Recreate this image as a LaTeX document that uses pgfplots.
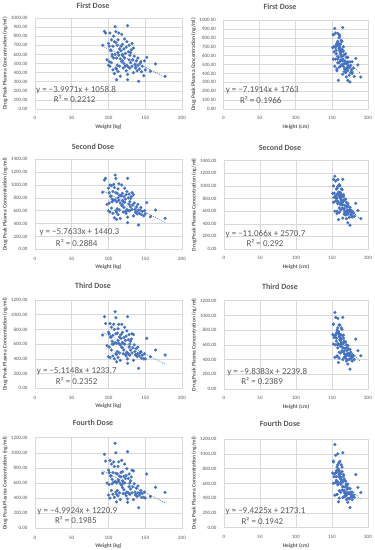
\documentclass[border=0pt]{standalone}
\usepackage{fontspec}
\setmainfont{Carlito}
\usepackage{pgfplots}
\usepackage{pgfplotstable}
\pgfplotsset{compat=1.18}
\definecolor{dotblue}{HTML}{4472C4}
\definecolor{txtgray}{HTML}{595959}
\definecolor{gridgray}{HTML}{D9D9D9}

\pgfplotstableread{
w h c1 c2 c3 c4
92 153 700 886 724 728
94.5 155 853 1078 973 979
96 152 835 1104 880 890
109 154 905 1155 1041 1125
126 165 916 1104 973 1014
141 175 304 378 271 273
177 190 359 482 452 476
164 186 495 611 520 543
152 183 568 725 679 719
111 159 322 466 360 350
126 172 322 415 339 345
148 181 366 520 400 410
157 178 414 505 430 420
102 152 835 1000 880 900
114 160 835 1020 870 880
100 156 720 950 760 770
104 158 760 990 830 850
106 161 690 900 720 740
108 157 740 960 800 820
110 162 730 880 740 730
112 160 700 870 750 720
103 153 640 820 700 690
105 163 600 780 640 650
107 155 560 760 600 610
101 158 520 720 560 580
100 154 480 600 430 440
102 160 470 580 420 400
104 167 510 640 520 500
106 157 430 560 440 450
108 165 390 490 400 410
110 168 450 600 470 480
113 156 620 800 650 640
115 161 660 840 700 690
117 163 640 830 680 680
119 166 600 760 620 630
120 159 580 740 610 600
116 162 550 720 590 590
118 170 520 680 560 570
121 164 500 650 520 510
122 158 560 730 600 600
123 167 610 780 650 660
124 160 680 850 710 700
119 157 710 870 760 750
117 155 690 840 730 740
114 158 590 760 610 620
112 166 480 630 500 500
111 171 440 580 460 450
113 169 410 540 420 430
115 173 470 610 480 470
120 168 450 580 470 460
125 162 480 620 490 480
127 170 460 600 470 470
128 165 540 700 560 550
129 163 590 740 600 600
130 169 620 790 640 630
131 161 650 820 670 680
128 166 700 860 730 720
130 171 510 660 520 520
132 174 470 620 480 470
133 168 540 690 550 550
134 164 670 850 730 760
135 172 580 720 590 590
136 176 490 620 500 480
137 170 450 580 460 450
138 175 530 660 540 530
139 167 420 550 430 420
140 173 480 600 470 470
142 177 440 560 440 440
143 171 500 610 480 470
145 176 410 540 410 410
146 174 470 590 450 460
149 178 530 600 470 480
150 172 430 550 400 400
125 159 740 900 780 790
122 163 770 950 830 850
118 161 820 1000 870 900
110 158 850 1100 960 1000
107 160 800 1010 870 880
113 164 760 940 810 820
121 156 660 820 690 690
124 168 420 560 440 430
126 174 380 500 400 390
116 170 360 480 380 380
109 163 600 770 620 620
103 166 650 830 690 700
105 170 580 740 600 590
132 160 720 880 740 770
127 162 630 800 660 660
119 172 530 690 550 540
123 175 470 590 460 460
134 178 400 520 380 380
137 180 460 570 450 440
111 152 560 740 610 600
129 157 450 600 450 450
140 165 560 700 560 560
144 160 520 650 500 500
98 162 540 700 580 600
101 151 690 880 740 740
}\data

\pgfplotsset{
 dose/.style={
  scale only axis, anchor=south west,
  xmin=0, xmax=200, ymin=0,
  xtick={0,50,...,200},
  grid=major, grid style={gridgray, line width=0.5pt},
  axis line style={gridgray, line width=0.5pt},
  major tick length=0pt,
  tick label style={font=\fontsize{5}{6}\selectfont, text=txtgray},
  /pgf/number format/assume math mode=true,
  scaled y ticks=false,
  yticklabel style={/pgf/number format/fixed, /pgf/number format/fixed zerofill, /pgf/number format/precision=2, /pgf/number format/1000 sep={}, xshift=-4pt},
  xticklabel style={yshift=-4pt},
  ylabel={Drug Peak Plasma Concentration (ng/ml)},
  every axis y label/.style={at={([xshift=-30pt]axis description cs:0,0.5)}, rotate=90, anchor=center, font=\fontsize{5.5}{6}\bfseries, text=txtgray},
  every axis x label/.style={at={([yshift=-18pt]axis description cs:0.5,0)}, anchor=center, font=\fontsize{5.5}{6}\bfseries, text=txtgray},
 },
 pts/.style={color=dotblue, only marks, mark=*, mark size=1.5pt, mark options={fill=dotblue, draw=dotblue, line width=0.2pt}},
 trend/.style={color=dotblue, no marks, line width=0.7pt, dash pattern=on 0.6pt off 1.5pt, line cap=round},
}
\tikzset{
 eq/.style={font=\fontsize{9}{10}\selectfont, text=txtgray, anchor=west, inner sep=0pt},
 rsq/.style={font=\fontsize{9}{10}\selectfont, text=txtgray, anchor=center, inner sep=0pt},
}

\begin{document}
\begin{tikzpicture}
\useasboundingbox (0,0) rectangle (375pt,550pt);

% ---------- Row 1 ----------
\begin{axis}[dose, at={(35pt,441pt)}, width=147pt, height=91pt, ymax=1000, ytick={0,100,...,1000}, xlabel={Weight (kg)}]
\addplot[pts] table[x=w, y=c1] {\data};
\addplot[trend] coordinates {(92,691.1) (177,351.3)};
\node[eq] at (axis cs:1.4,209) {y = −3.9971x + 1058.8};
\node[rsq] at (axis cs:54,110) {R² = 0.2212};
\end{axis}
\begin{axis}[dose, at={(223.5pt,441pt)}, width=144.5pt, height=89pt, ymax=1000, ytick={0,100,...,1000}, xlabel={Height (cm)}]
\addplot[pts] table[x=h, y=c1] {\data};
\addplot[trend] coordinates {(151,677.1) (190,396.6)};
\node[eq] at (axis cs:3,213) {y = −7.1914x + 1763};
\node[rsq] at (axis cs:51.6,101) {R² = 0.1966};
\end{axis}

% ---------- Row 2 ----------
\begin{axis}[dose, at={(35pt,300.7pt)}, width=147pt, height=90pt, ymax=1400, ytick={0,200,...,1400}, xlabel={Weight (kg)}]
\addplot[pts] table[x=w, y=c2] {\data};
\addplot[trend] coordinates {(92,910.1) (177,420.2)};
\node[eq] at (axis cs:5.9,264) {y = −5.7633x + 1440.3};
\node[rsq] at (axis cs:56.7,103) {R² = 0.2884};
\end{axis}
\begin{axis}[dose, at={(224pt,301pt)}, width=144pt, height=88.3pt, ymax=1400, ytick={0,200,...,1400}, xlabel={Height (cm)}]
\addplot[pts] table[x=h, y=c2] {\data};
\addplot[trend] coordinates {(151,899.7) (190,468.2)};
\node[eq] at (axis cs:2,238) {y = −11.066x + 2570.7};
\node[rsq] at (axis cs:57,90) {R² = 0.292};
\end{axis}

% ---------- Row 3 ----------
\begin{axis}[dose, at={(35pt,161.7pt)}, width=147pt, height=88.3pt, ymax=1200, ytick={0,200,...,1200}, xlabel={Weight (kg)}]
\addplot[pts] table[x=w, y=c3] {\data};
\addplot[trend] coordinates {(92,763.1) (177,328.4)};
\node[eq] at (axis cs:2.3,235) {y = −5.1148x + 1233.7};
\node[rsq] at (axis cs:56.7,99) {R² = 0.2352};
\end{axis}
\begin{axis}[dose, at={(224pt,161pt)}, width=144pt, height=88.3pt, ymax=1200, ytick={0,200,...,1200}, xlabel={Height (cm)}]
\addplot[pts] table[x=h, y=c3] {\data};
\addplot[trend] coordinates {(151,754.2) (190,370.5)};
\node[eq] at (axis cs:4.4,235) {y = −9.8383x + 2239.8};
\node[rsq] at (axis cs:52.9,109) {R² = 0.2389};
\end{axis}

% ---------- Row 4 ----------
\begin{axis}[dose, at={(35pt,21.7pt)}, width=147pt, height=90.6pt, ymax=1200, ytick={0,200,...,1200}, xlabel={Weight (kg)}]
\addplot[pts] table[x=w, y=c4] {\data};
\addplot[trend] coordinates {(92,761.6) (177,337.2)};
\node[eq] at (axis cs:3.1,229) {y = −4.9924x + 1220.9};
\node[rsq] at (axis cs:55.5,106) {R² = 0.1985};
\end{axis}
\begin{axis}[dose, at={(224pt,22.3pt)}, width=144pt, height=88.7pt, ymax=1200, ytick={0,200,...,1200}, xlabel={Height (cm)}]
\addplot[pts] table[x=h, y=c4] {\data};
\addplot[trend] coordinates {(151,750.3) (190,382.8)};
\node[eq] at (axis cs:2,216) {y = −9.4225x + 2173.1};
\node[rsq] at (axis cs:53.3,91) {R² = 0.1942};
\end{axis}

% ---------- Titles ----------
\begin{scope}[every node/.style={font=\fontsize{8}{9}\bfseries, text=txtgray}]
\node at (93pt,544pt) {First Dose};
\node at (280pt,543.5pt) {First Dose};
\node at (93pt,403pt) {Second Dose};
\node at (280pt,402pt) {Second Dose};
\node at (93pt,264pt) {Third Dose};
\node at (280pt,263pt) {Third Dose};
\node at (93pt,127pt) {Fourth Dose};
\node at (280pt,126pt) {Fourth Dose};
\end{scope}
\end{tikzpicture}
\end{document}
